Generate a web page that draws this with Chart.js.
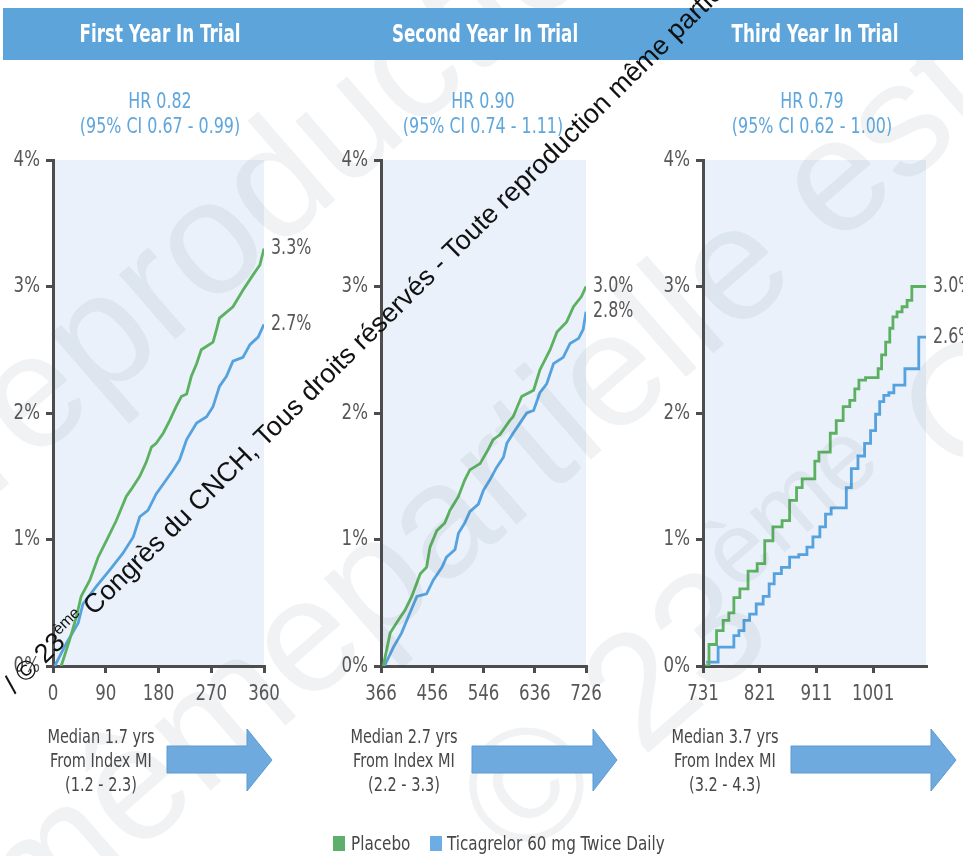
<!DOCTYPE html>
<html>
<head>
<meta charset="utf-8">
<script src="https://cdn.jsdelivr.net/npm/chart.js@4.4.1/dist/chart.umd.min.js"></script>
<style>
  html, body { margin: 0; padding: 0; background: #fff; }
  #page { position: relative; width: 963px; height: 856px; overflow: hidden;
          font-family: 'Liberation Sans Narrow', 'Arial Narrow', 'DejaVu Sans Condensed', sans-serif; }
  .panel { position: absolute; z-index: 1; }
  .band { position: absolute; left: 3px; top: 8px; width: 960px; height: 52px; background: #5DA4DB; z-index: 3; }
  .title { position: absolute; top: 8px; height: 52px; line-height: 52px; color: #fff; font-size: 25px; font-weight: bold;
           transform: translateX(-50%); white-space: nowrap; z-index: 4; }
  .hr { position: absolute; top: 89px; color: #5EA6DC; font-size: 21px; line-height: 25px; text-align: center;
        transform: translateX(-50%); white-space: nowrap; z-index: 4; }
  .median { position: absolute; top: 724px; color: #474747; font-size: 19px; line-height: 24px; text-align: center;
            transform: translateX(-50%); white-space: nowrap; z-index: 4; }
  .legend { position: absolute; top: 831px; height: 24px; line-height: 24px; font-size: 20px; color: #474747;
            transform-origin: left center; white-space: nowrap; z-index: 4; }
  svg { position: absolute; left: 0; top: 0; }
</style>
</head>
<body>
<div id="page">
  <div class="band"></div>
  <canvas id="c1" class="panel"></canvas>
  <canvas id="c2" class="panel"></canvas>
  <canvas id="c3" class="panel"></canvas>

  <svg id="faint" width="963" height="856" style="z-index:2" font-family="'Liberation Sans', Arial, sans-serif"></svg>
  <svg id="shapes" width="963" height="856" style="z-index:4"></svg>
  <svg id="mark" width="963" height="856" style="z-index:6" font-family="'Liberation Sans', Arial, sans-serif"></svg>
</div>

<script>
// ---------- data ----------
const panelTitles = ['First Year In Trial', 'Second Year In Trial', 'Third Year In Trial'];
const hazardRatios = ['0.82', '0.90', '0.79'];
const ciLower = ['0.67', '0.74', '0.62'];
const ciUpper = ['0.99', '1.11', '1.00'];
const medianYears = ['1.7', '2.7', '3.7'];
const medianRanges = ['1.2 - 2.3', '2.2 - 3.3', '3.2 - 4.3'];
const seriesNames = ['Placebo', 'Ticagrelor 60 mg Twice Daily'];

const yTicks = [0, 1, 2, 3, 4];
const xTicks1 = [0, 90, 180, 270, 360];
const xTicks2 = [366, 456, 546, 636, 726];
const xTicks3 = [731, 821, 911, 1001];
const xRange1 = [0, 360];
const xRange2 = [366, 726];
const xRange3 = [731, 1085];

// first year: cumulative event rate (%) by day
const y1PlaceboDays = [14, 28, 40, 48, 63, 77, 91, 108, 125, 134, 148, 159, 168, 176, 188, 199, 210, 219, 228, 236, 245, 253, 273, 279, 284, 307, 324, 341, 353, 360];
const y1PlaceboPct  = [0, 0.20, 0.39, 0.55, 0.68, 0.86, 0.99, 1.15, 1.34, 1.40, 1.50, 1.61, 1.73, 1.76, 1.84, 1.94, 2.05, 2.13, 2.15, 2.29, 2.39, 2.50, 2.56, 2.66, 2.75, 2.84, 2.97, 3.09, 3.17, 3.3];
const y1TicaDays = [3, 23, 43, 51, 74, 97, 119, 137, 148, 162, 176, 193, 205, 216, 228, 245, 262, 273, 284, 296, 307, 324, 336, 350, 360];
const y1TicaPct  = [0, 0.18, 0.34, 0.49, 0.63, 0.76, 0.89, 1.02, 1.18, 1.23, 1.36, 1.47, 1.55, 1.63, 1.79, 1.92, 1.97, 2.05, 2.21, 2.29, 2.41, 2.44, 2.54, 2.60, 2.7];

// second year
const y2PlaceboDays = [370, 382, 396, 408, 420, 435, 446, 452, 464, 478, 487, 502, 513, 522, 540, 554, 563, 575, 592, 598, 613, 634, 645, 663, 675, 692, 704, 718, 726];
const y2PlaceboPct  = [0, 0.26, 0.36, 0.44, 0.55, 0.73, 0.78, 0.94, 1.07, 1.13, 1.23, 1.34, 1.47, 1.55, 1.60, 1.71, 1.79, 1.83, 1.94, 1.97, 2.13, 2.18, 2.34, 2.50, 2.64, 2.72, 2.84, 2.92, 3.0];
const y2TicaDays = [372, 388, 402, 414, 429, 446, 458, 473, 481, 496, 502, 513, 522, 537, 546, 557, 569, 581, 587, 598, 610, 622, 634, 645, 657, 669, 686, 698, 713, 721, 726];
const y2TicaPct  = [0, 0.15, 0.26, 0.39, 0.55, 0.57, 0.68, 0.78, 0.86, 0.92, 1.05, 1.13, 1.22, 1.28, 1.39, 1.47, 1.57, 1.65, 1.76, 1.84, 1.92, 2.00, 2.02, 2.16, 2.23, 2.39, 2.44, 2.55, 2.59, 2.66, 2.8];

// third year
const y3PlaceboDays = [734, 747, 758, 768, 776, 784, 795, 810, 824, 834, 850, 863, 874, 885, 892, 906, 911, 919, 929, 937, 948, 959, 969, 975, 982, 996, 1006, 1012, 1017, 1025, 1030, 1035, 1043, 1051, 1059, 1066, 1085];
const y3PlaceboPct  = [0, 0.17, 0.28, 0.36, 0.42, 0.54, 0.61, 0.75, 0.81, 0.99, 1.10, 1.15, 1.31, 1.41, 1.48, 1.48, 1.62, 1.69, 1.69, 1.84, 1.94, 2.05, 2.10, 2.19, 2.26, 2.28, 2.28, 2.35, 2.46, 2.56, 2.67, 2.76, 2.80, 2.84, 2.89, 3.0, 3.0];
const y3TicaDays = [736, 752, 758, 776, 784, 792, 800, 810, 821, 832, 840, 848, 863, 874, 892, 900, 911, 922, 929, 940, 956, 961, 972, 982, 993, 1001, 1009, 1014, 1022, 1030, 1038, 1049, 1054, 1072, 1075, 1085];
const y3TicaPct  = [0.03, 0.03, 0.15, 0.15, 0.24, 0.28, 0.36, 0.41, 0.49, 0.55, 0.65, 0.73, 0.78, 0.86, 0.88, 0.94, 1.02, 1.10, 1.20, 1.25, 1.25, 1.41, 1.56, 1.66, 1.76, 1.86, 1.99, 2.09, 2.14, 2.16, 2.22, 2.22, 2.35, 2.35, 2.6, 2.6];

// ---------- styling ----------
const FONT = "'Liberation Sans Narrow', 'Arial Narrow', 'DejaVu Sans Condensed', sans-serif";
const GREEN = '#5BB160';
const BLUE = '#55A2DE';
const AXIS = '#4D4D4D';
const TICK_TEXT = '#575757';
const PLOT_BG = '#EAF1FA';
const CANVAS_TEXT_SQUEEZE = 0.84;   // narrower lettering for axis and end labels

const pairs = (days, pct) => days.map((d, i) => ({ x: d, y: pct[i] }));

// draw every canvas string slightly condensed, using fillText's maxWidth argument
const condensedText = {
  id: 'condensedText',
  beforeInit(chart) {
    const c = chart.ctx;
    const orig = c.fillText;
    c.fillText = function (t, x, y, mw) {
      const w = this.measureText(t).width * CANVAS_TEXT_SQUEEZE;
      return orig.call(this, t, x, y, mw !== undefined ? Math.min(mw, w) : w);
    };
  }
};

const plotBackground = {
  id: 'plotBackground',
  beforeDraw(chart) {
    const a = chart.chartArea, c = chart.ctx;
    c.save();
    c.fillStyle = PLOT_BG;
    c.fillRect(a.left, a.top, a.right - a.left, a.bottom - a.top);
    c.restore();
  }
};

const endLabels = {
  id: 'endLabels',
  afterDatasetsDraw(chart) {
    const c = chart.ctx;
    c.save();
    c.font = '21px ' + FONT;
    c.fillStyle = TICK_TEXT;
    c.textAlign = 'left';
    c.textBaseline = 'middle';
    chart.data.datasets.forEach((ds, i) => {
      const meta = chart.getDatasetMeta(i);
      const el = meta.data[meta.data.length - 1];
      const v = ds.data[ds.data.length - 1].y;
      c.fillText(v.toFixed(1) + '%', el.x + 7, el.y);
    });
    c.restore();
  }
};

// panel boxes: left edge of the y axis and right edge of the plot, in page pixels
const panelBoxes = [
  { id: 'c1', axisLeft: 53, plotRight: 264 },
  { id: 'c2', axisLeft: 381, plotRight: 586 },
  { id: 'c3', axisLeft: 703, plotRight: 926 }
];
const Y_AXIS_W = 60, X_AXIS_H = 50, PAD_TOP = 20, PAD_RIGHT = 60;
const PLOT_TOP = 160, PLOT_BOTTOM = 666;

function makePanel(k, placebo, tica, range, xTicks, stepped) {
  const box = panelBoxes[k];
  const canvas = document.getElementById(box.id);
  const left = box.axisLeft - Y_AXIS_W;
  const width = box.plotRight + PAD_RIGHT - left;
  const top = PLOT_TOP - PAD_TOP;
  const height = PLOT_BOTTOM + X_AXIS_H - top;
  canvas.width = width; canvas.height = height;
  canvas.style.left = left + 'px'; canvas.style.top = top + 'px';
  canvas.style.width = width + 'px'; canvas.style.height = height + 'px';

  const lineStyle = { pointRadius: 0, borderWidth: 2.8, tension: 0, stepped: stepped, fill: false };
  const axisCommon = {
    border: { display: true, color: AXIS, width: 3 },
    grid: { display: true, drawOnChartArea: false, drawTicks: true, tickLength: 7, tickWidth: 3, tickColor: AXIS, color: AXIS, lineWidth: 3 },
  };
  new Chart(canvas, {
    type: 'line',
    data: {
      datasets: [
        Object.assign({ label: seriesNames[0], data: pairs(placebo[0], placebo[1]), borderColor: GREEN }, lineStyle),
        Object.assign({ label: seriesNames[1], data: pairs(tica[0], tica[1]), borderColor: BLUE }, lineStyle)
      ]
    },
    options: {
      responsive: false, animation: false, devicePixelRatio: 1,
      layout: { padding: { top: PAD_TOP, right: PAD_RIGHT, bottom: 0, left: 0 } },
      plugins: { legend: { display: false }, tooltip: { enabled: false } },
      scales: {
        x: Object.assign({
          type: 'linear', min: range[0], max: range[1],
          afterFit(s) { s.height = X_AXIS_H; },
          afterBuildTicks(s) { s.ticks = xTicks.map(v => ({ value: v })); },
          ticks: { color: TICK_TEXT, font: { family: FONT, size: 22 }, padding: 8, maxRotation: 0, autoSkip: false,
                   callback: v => String(v) }
        }, axisCommon),
        y: Object.assign({
          type: 'linear', min: 0, max: 4,
          afterFit(s) { s.width = Y_AXIS_W; },
          afterBuildTicks(s) { s.ticks = yTicks.map(v => ({ value: v })); },
          ticks: { color: TICK_TEXT, font: { family: FONT, size: 22 }, padding: 6, callback: v => v + '%' }
        }, axisCommon)
      }
    },
    plugins: [condensedText, plotBackground, endLabels]
  });
}

makePanel(0, [y1PlaceboDays, y1PlaceboPct], [y1TicaDays, y1TicaPct], xRange1, xTicks1, false);
makePanel(1, [y2PlaceboDays, y2PlaceboPct], [y2TicaDays, y2TicaPct], xRange2, xTicks2, false);
makePanel(2, [y3PlaceboDays, y3PlaceboPct], [y3TicaDays, y3TicaPct], xRange3, xTicks3, 'middle');

// ---------- text blocks ----------
const page = document.getElementById('page');
const titleX = [160, 485, 815];
const hrX = [160, 483, 812];
const medianX = [101, 404, 725];
function addDiv(cls, x, html) {
  const d = document.createElement('div');
  d.className = cls; d.style.left = x + 'px'; d.innerHTML = html;
  page.appendChild(d);
  return d;
}
const titles = [], hrs = [], medians = [];
for (let k = 0; k < 3; k++) {
  titles.push(addDiv('title', titleX[k], panelTitles[k]));
  hrs.push(addDiv('hr', hrX[k], 'HR ' + hazardRatios[k] + '<br>(95% CI ' + ciLower[k] + ' - ' + ciUpper[k] + ')'));
  medians.push(addDiv('median', medianX[k], 'Median ' + medianYears[k] + ' yrs<br>From Index MI<br>(' + medianRanges[k] + ')'));
}
const legendItems = [addDiv('legend', 351, seriesNames[0]), addDiv('legend', 447, seriesNames[1])];

// condense each group of labels so its lettering has the narrow proportions of the layout
function squeeze(group, sample, targetWidth, centred) {
  const f = targetWidth / sample.offsetWidth;
  group.forEach(d => { d.style.transform = (centred ? 'translateX(-50%) ' : '') + 'scaleX(' + f.toFixed(3) + ')'; });
}
squeeze(titles, titles[0], 161, true);
squeeze(hrs, hrs[0], 160, true);
squeeze(medians, medians[0], 107, true);
squeeze(legendItems, legendItems[1], 218, false);

// ---------- arrows and legend swatches ----------
const NS = 'http://www.w3.org/2000/svg';
const shapes = document.getElementById('shapes');
function el(parent, tag, attrs, text) {
  const e = document.createElementNS(NS, tag);
  for (const k in attrs) e.setAttribute(k, attrs[k]);
  if (text !== undefined) e.textContent = text;
  parent.appendChild(e);
  return e;
}
const arrows = [[167, 247, 272], [472, 593, 617], [791, 931, 956]];
arrows.forEach(([x0, xb, xt]) => {
  const pts = [[x0, 746], [xb, 746], [xb, 729], [xt, 760], [xb, 791], [xb, 773], [x0, 773]];
  el(shapes, 'polygon', { points: pts.map(p => p.join(',')).join(' '), fill: '#6FAADF', stroke: '#5A9AD4', 'stroke-width': 1 });
});
el(shapes, 'rect', { x: 333, y: 836, width: 12, height: 15, fill: '#5EAF6B' });
el(shapes, 'rect', { x: 430, y: 836, width: 12, height: 15, fill: '#6DADE3' });

// ---------- copyright watermark ----------
const faint = document.getElementById('faint');
function faintLine(x, y, before, after, size) {
  const g = el(faint, 'g', { transform: 'rotate(-41 ' + x + ' ' + y + ')', fill: 'rgba(70,80,95,0.075)', 'font-size': size });
  if (before) el(g, 'text', { x: x, y: y, 'text-anchor': 'end' }, before);
  return el(g, 'text', { x: x, y: y, 'text-anchor': 'start' }, after);
}
faintLine(-10, 500, 'Toute ', 'reproduction même', 162);
faintLine(372, 650, 'reproduction même ', 'partielle est interdite', 162);
const t3 = faintLine(518, 866, '', '© 23', 162);
el(t3, 'tspan', { dy: -62, 'font-size': 100 }, 'ème');
el(t3, 'tspan', { dy: 62 }, ' Congrès du CNCH');

const mark = document.getElementById('mark');
const mx = 14.8, my = 694.2;
const mt = el(mark, 'text', { x: mx, y: my, transform: 'rotate(-44.6 ' + mx + ' ' + my + ')', fill: '#111', 'font-size': 27 }, '/ © 23');
el(mt, 'tspan', { dy: -11, 'font-size': 16 }, 'ème');
el(mt, 'tspan', { dy: 11 }, ' Congrès du CNCH, Tous droits réservés - Toute reproduction même partielle interdite');
</script>
</body>
</html>
